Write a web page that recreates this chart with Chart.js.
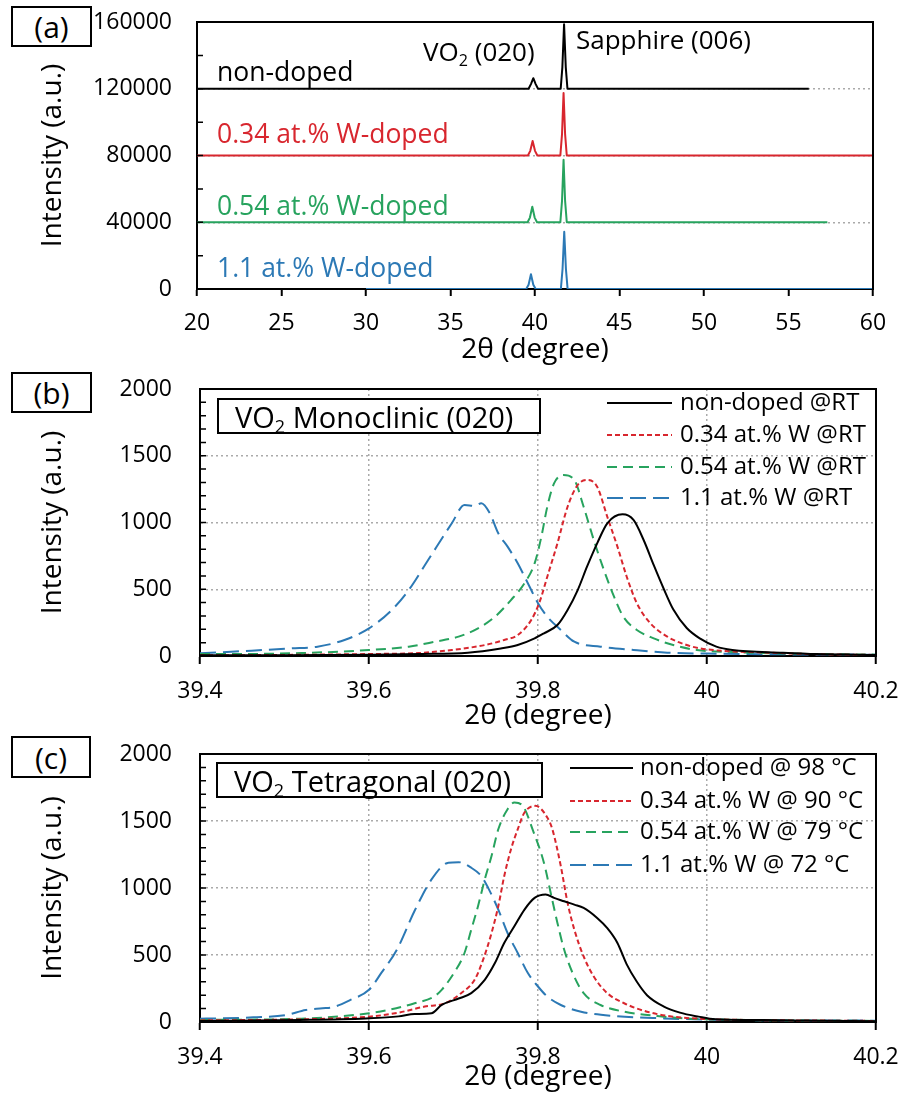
<!DOCTYPE html>
<html><head><meta charset="utf-8">
<script src="https://cdn.jsdelivr.net/npm/chart.js@4.4.1/dist/chart.umd.min.js"></script>
<style>
html,body{margin:0;padding:0;background:#fff;}
body{width:901px;height:1099px;position:relative;overflow:hidden;font-family:'Open Sans',sans-serif;color:#000;}
canvas{position:absolute;left:0;}
.t{position:absolute;white-space:nowrap;line-height:1;transform:translateY(-50%);}
.box{position:absolute;border:2px solid #000;box-sizing:border-box;background:#fff;display:flex;align-items:center;white-space:nowrap;}
.pl{justify-content:center;font-size:30px;}
.tb{font-size:29px;padding-left:16px;}
sub{font-size:0.62em;vertical-align:-0.3em;line-height:0;}
</style></head><body>
<canvas id="ca" width="901" height="367" style="top:0"></canvas>
<canvas id="cb" width="901" height="368" style="top:365px"></canvas>
<canvas id="cc" width="901" height="364" style="top:730px"></canvas>

<div class="box pl" style="left:11px;top:6px;width:81px;height:41px"><span>(a)</span></div>
<div class="box pl" style="left:11px;top:372px;width:81px;height:41px"><span>(b)</span></div>
<div class="box pl" style="left:11px;top:736px;width:80px;height:42px"><span>(c)</span></div>

<div class="t" style="left:217px;top:71px;font-size:26.5px;color:#000">non-doped</div>
<div class="t" style="left:217px;top:133px;font-size:26.5px;color:#d8262e">0.34 at.% W-doped</div>
<div class="t" style="left:217px;top:205px;font-size:26.5px;color:#27a35e">0.54 at.% W-doped</div>
<div class="t" style="left:217px;top:267px;font-size:26.5px;color:#2c79b5">1.1 at.% W-doped</div>
<div class="t" style="left:423px;top:51px;font-size:26px">VO<sub>2</sub> (020)</div>
<div class="t" style="left:576px;top:39px;font-size:26px">Sapphire (006)</div>

<div class="box tb" style="left:217px;top:398px;width:324px;height:36px"><span>VO<sub>2</sub> Monoclinic (020)</span></div>
<div class="box tb" style="left:216px;top:762px;width:327px;height:36px"><span>VO<sub>2</sub> Tetragonal (020)</span></div>

<script>
// ---------------- DATA ----------------
// Panel (a): wide XRD scans (offset traces)
const A_X_TICKS = [20, 25, 30, 35, 40, 45, 50, 55, 60];
const A_X_LABELS = ['20', '25', '30', '35', '40', '45', '50', '55', '60'];
const A_Y_TICKS = [0, 40000, 80000, 120000, 160000];
const A_Y_LABELS = ['0', '40000', '80000', '120000', '160000'];
const A_Y_MINOR = [0, 20000, 40000, 60000, 80000, 100000, 120000, 140000, 160000];

const A_NON_X = [20, 39.62, 39.76, 39.9, 40.04, 40.18, 41.52, 41.62, 41.72, 41.82, 41.92, 56.2];
const A_NON_Y = [120000, 120000, 122800, 126300, 122800, 120000, 120000, 133000, 158600, 133000, 120000, 120000];
const A_W034_X = [20, 39.58, 39.72, 39.86, 40.0, 40.14, 41.5, 41.6, 41.69, 41.78, 41.88, 60];
const A_W034_Y = [80000, 80000, 82800, 88700, 82800, 80000, 80000, 93000, 117400, 93000, 80000, 80000];
const A_W054_X = [20, 39.56, 39.7, 39.84, 39.98, 40.12, 41.5, 41.6, 41.69, 41.78, 41.88, 57.3];
const A_W054_Y = [40000, 40000, 42800, 49300, 42800, 40000, 40000, 53000, 77500, 53000, 40000, 40000];
const A_W11_X = [30, 39.48, 39.62, 39.76, 39.9, 40.04, 41.53, 41.63, 41.73, 41.83, 41.93, 60];
const A_W11_Y = [0, 0, 2600, 8800, 2600, 0, 0, 12000, 34300, 12000, 0, 0];

// Panels (b), (c): VO2 (020) peak
const BC_X_TICKS = [39.4, 39.6, 39.8, 40.0, 40.2];
const BC_X_LABELS = ['39.4', '39.6', '39.8', '40', '40.2'];
const BC_Y_TICKS = [0, 500, 1000, 1500, 2000];
const BC_Y_LABELS = ['0', '500', '1000', '1500', '2000'];
const BC_Y_MINOR = [0, 100, 200, 300, 400, 500, 600, 700, 800, 900, 1000, 1100, 1200, 1300, 1400, 1500, 1600, 1700, 1800, 1900, 2000];

const B_LABELS = ['non-doped @RT', '0.34 at.% W @RT', '0.54 at.% W @RT', '1.1 at.% W @RT'];
const B_NON_X = [39.4, 39.5, 39.6, 39.66, 39.717, 39.756, 39.776, 39.796, 39.807, 39.823, 39.835, 39.847, 39.858, 39.87, 39.882, 39.9, 39.913, 39.925, 39.937, 39.949, 39.96, 39.976, 39.992, 40.011, 40.03, 40.09, 40.13, 40.2];
const B_NON_Y = [5, 6, 10, 15, 25, 57, 82, 132, 170, 232, 345, 494, 669, 844, 994, 1061, 1019, 869, 680, 500, 350, 210, 130, 70, 45, 25, 15, 8];
const B_W034_X = [39.4, 39.5, 39.6, 39.658, 39.698, 39.737, 39.76, 39.776, 39.792, 39.802, 39.811, 39.823, 39.835, 39.847, 39.858, 39.87, 39.882, 39.894, 39.905, 39.917, 39.933, 39.953, 39.976, 39.992, 40.02, 40.06, 40.12, 40.2];
const B_W034_Y = [5, 8, 15, 22, 45, 82, 120, 157, 270, 407, 594, 844, 1118, 1281, 1318, 1268, 1043, 819, 594, 395, 245, 145, 82, 57, 38, 28, 15, 8];
const B_W054_X = [39.4, 39.44, 39.52, 39.6, 39.647, 39.678, 39.706, 39.729, 39.749, 39.768, 39.784, 39.796, 39.804, 39.811, 39.819, 39.83, 39.843, 39.854, 39.866, 39.878, 39.89, 39.901, 39.917, 39.937, 39.96, 39.988, 40.03, 40.1, 40.2];
const B_W054_Y = [15, 15, 22, 45, 70, 107, 145, 207, 294, 419, 545, 694, 894, 1118, 1293, 1356, 1318, 1118, 869, 644, 444, 294, 195, 132, 82, 45, 30, 18, 10];
const B_W11_X = [39.4, 39.461, 39.508, 39.539, 39.571, 39.6, 39.627, 39.647, 39.67, 39.698, 39.713, 39.725, 39.733, 39.743, 39.753, 39.764, 39.776, 39.788, 39.8, 39.811, 39.827, 39.843, 39.874, 39.913, 39.953, 40.0, 40.1, 40.2];
const B_W11_Y = [20, 40, 57, 70, 120, 207, 345, 494, 719, 994, 1131, 1124, 1144, 1069, 919, 819, 694, 545, 395, 294, 195, 107, 70, 45, 25, 18, 12, 10];

const C_LABELS = ['non-doped @ 98 °C', '0.34 at.% W @ 90 °C', '0.54 at.% W @ 79 °C', '1.1 at.% W @ 72 °C'];
const C_NON_X = [39.4, 39.518, 39.596, 39.635, 39.654, 39.674, 39.686, 39.706, 39.721, 39.737, 39.749, 39.76, 39.772, 39.784, 39.796, 39.809, 39.819, 39.831, 39.843, 39.854, 39.87, 39.882, 39.894, 39.905, 39.917, 39.929, 39.949, 39.968, 39.99, 40.01, 40.05, 40.1, 40.2];
const C_NON_Y = [7, 15, 27, 42, 60, 65, 127, 175, 215, 315, 440, 589, 714, 839, 926, 951, 926, 901, 876, 851, 776, 700, 590, 430, 300, 200, 115, 70, 40, 20, 15, 12, 5];
const C_W034_X = [39.4, 39.52, 39.6, 39.635, 39.666, 39.69, 39.709, 39.725, 39.735, 39.745, 39.753, 39.76, 39.768, 39.776, 39.784, 39.797, 39.811, 39.817, 39.827, 39.835, 39.843, 39.854, 39.866, 39.882, 39.902, 39.929, 39.96, 40.0, 40.05, 40.1, 40.2];
const C_W034_Y = [12, 20, 40, 70, 115, 140, 215, 315, 464, 664, 864, 1088, 1288, 1438, 1563, 1613, 1526, 1438, 1163, 889, 689, 489, 339, 215, 140, 77, 40, 22, 15, 12, 8];
const C_W054_X = [39.4, 39.52, 39.6, 39.623, 39.654, 39.677, 39.686, 39.702, 39.713, 39.721, 39.729, 39.737, 39.745, 39.753, 39.764, 39.772, 39.782, 39.794, 39.807, 39.815, 39.823, 39.831, 39.841, 39.854, 39.874, 39.902, 39.941, 39.98, 40.05, 40.2];
const C_W054_Y = [15, 25, 65, 90, 140, 190, 240, 380, 515, 689, 864, 1064, 1238, 1438, 1588, 1638, 1613, 1430, 1189, 964, 739, 539, 365, 215, 127, 77, 45, 25, 15, 8];
const C_W11_X = [39.4, 39.423, 39.463, 39.502, 39.525, 39.545, 39.557, 39.578, 39.6, 39.615, 39.633, 39.654, 39.674, 39.694, 39.706, 39.721, 39.733, 39.741, 39.753, 39.764, 39.776, 39.788, 39.8, 39.811, 39.827, 39.851, 39.89, 39.949, 40.0, 40.1, 40.2];
const C_W11_Y = [25, 27, 35, 52, 90, 102, 110, 165, 240, 370, 540, 830, 1064, 1189, 1193, 1151, 1088, 1001, 839, 664, 515, 365, 265, 190, 127, 77, 45, 27, 18, 12, 10];

// ---------------- STYLE ----------------
const FONT = "'Open Sans'";
const BLACK = '#000000', RED = '#d8262e', GREEN = '#27a35e', BLUE = '#2c79b5';
const GRID = '#aaaaaa';
const DASH_RED = [5, 3], DASH_GREEN = [10, 6], DASH_BLUE = [16, 7];

const pts = (xs, ys) => xs.map((x, i) => ({x: x, y: ys[i]}));

function framePlugin(minor, tickLen) {
  return {
    id: 'frame',
    afterDraw(chart) {
      const ctx = chart.ctx, a = chart.chartArea, ys = chart.scales.y;
      ctx.save();
      ctx.setLineDash([]);
      ctx.strokeStyle = '#000';
      ctx.lineWidth = 2;
      ctx.beginPath();
      ctx.moveTo(a.left - 1, a.top);
      ctx.lineTo(a.right, a.top);
      ctx.lineTo(a.right, a.bottom + 1);
      ctx.stroke();
      ctx.lineWidth = 1.5;
      ctx.beginPath();
      minor.forEach(v => {
        const p = ys.getPixelForValue(v);
        ctx.moveTo(a.left, p);
        ctx.lineTo(a.left + tickLen, p);
      });
      ctx.stroke();
      ctx.restore();
    }
  };
}

function legendPlugin(cfg) {
  return {
    id: 'lg',
    afterDraw(chart) {
      if (!cfg) return;
      const ctx = chart.ctx;
      chart.data.datasets.forEach((ds, i) => {
        const y = cfg.rows[i];
        ctx.save();
        ctx.strokeStyle = ds.borderColor;
        ctx.lineWidth = 2;
        ctx.setLineDash(ds.borderDash || []);
        ctx.beginPath();
        ctx.moveTo(cfg.x1, y);
        ctx.lineTo(cfg.x2, y);
        ctx.stroke();
        ctx.setLineDash([]);
        ctx.fillStyle = '#000';
        ctx.font = "24px 'Open Sans'";
        ctx.textBaseline = 'middle';
        ctx.textAlign = 'left';
        ctx.fillText(ds.label, cfg.tx, y);
        ctx.restore();
      });
    }
  };
}

function makeScales(o) {
  return {
    x: {
      type: 'linear', min: o.xMin, max: o.xMax,
      afterBuildTicks: s => { s.ticks = o.xTicks.map(v => ({value: v})); },
      afterFit: s => { s.height = o.xHeight; s.paddingLeft = 0; s.paddingRight = 0; },
      ticks: {
        autoSkip: false, maxRotation: 0, minRotation: 0, padding: o.xTickPad, color: '#000',
        font: {family: FONT, size: 23},
        callback: (v, i) => o.xLabels[i]
      },
      grid: {
        display: true, drawOnChartArea: o.xGrid, drawTicks: true, tickLength: o.tickLen,
        tickColor: '#000', tickWidth: 2, tickBorderDash: [], color: GRID, lineWidth: 1.5
      },
      border: {display: true, color: '#000', width: 2, dash: [2, 3]},
      title: {display: true, text: '2θ (degree)', color: '#000', font: {family: FONT, size: 28}, padding: {top: 0, bottom: 0}}
    },
    y: {
      type: 'linear', min: o.yMin, max: o.yMax,
      afterBuildTicks: s => { s.ticks = o.yTicks.map(v => ({value: v})); },
      afterFit: s => { s.width = o.yWidth; s.paddingTop = 0; s.paddingBottom = 0; },
      ticks: {
        autoSkip: false, padding: o.yTickPad, color: '#000',
        font: {family: FONT, size: 23},
        callback: (v, i) => o.yLabels[i]
      },
      grid: {display: true, drawOnChartArea: true, drawTicks: false, color: GRID, lineWidth: 1.5},
      border: {display: true, color: '#000', width: 2, dash: [2, 3]},
      title: {display: true, text: 'Intensity (a.u.)', color: '#000', font: {family: FONT, size: 28}, padding: {top: 36, bottom: 0}}
    }
  };
}

function ds(label, xs, ys, color, dash, smooth) {
  return {
    label: label, data: pts(xs, ys), borderColor: color, backgroundColor: color,
    borderWidth: 2, borderDash: dash, pointRadius: 0, fill: false,
    tension: 0, cubicInterpolationMode: smooth ? 'monotone' : 'default',
    borderJoinStyle: 'round'
  };
}

function makeChart(id, padding, datasets, scaleOpts, minor, legendCfg) {
  return new Chart(document.getElementById(id), {
    type: 'line',
    data: {datasets: datasets},
    options: {
      responsive: false, animation: false, devicePixelRatio: 1,
      layout: {padding: padding},
      plugins: {legend: {display: false}, tooltip: {enabled: false}},
      scales: makeScales(scaleOpts)
    },
    plugins: [framePlugin(minor, 6), legendPlugin(legendCfg)]
  });
}

// Panel (a)
makeChart('ca', {top: 22, right: 28, left: 0, bottom: 0}, [
  ds('non-doped', A_NON_X, A_NON_Y, BLACK, [], false),
  ds('0.34 at.% W-doped', A_W034_X, A_W034_Y, RED, [], false),
  ds('0.54 at.% W-doped', A_W054_X, A_W054_Y, GREEN, [], false),
  ds('1.1 at.% W-doped', A_W11_X, A_W11_Y, BLUE, [], false)
], {
  xMin: 20, xMax: 60, xTicks: A_X_TICKS, xLabels: A_X_LABELS, xHeight: 78, xTickPad: 14, tickLen: 7, xGrid: false,
  yMin: 0, yMax: 160000, yTicks: A_Y_TICKS, yLabels: A_Y_LABELS, yWidth: 197, yTickPad: 25
}, A_Y_MINOR, null);

// Panel (b)
makeChart('cb', {top: 24, right: 25, left: 0, bottom: 0}, [
  ds(B_LABELS[0], B_NON_X, B_NON_Y, BLACK, [], true),
  ds(B_LABELS[1], B_W034_X, B_W034_Y, RED, DASH_RED, true),
  ds(B_LABELS[2], B_W054_X, B_W054_Y, GREEN, DASH_GREEN, true),
  ds(B_LABELS[3], B_W11_X, B_W11_Y, BLUE, DASH_BLUE, true)
], {
  xMin: 39.4, xMax: 40.2, xTicks: BC_X_TICKS, xLabels: BC_X_LABELS, xHeight: 77, xTickPad: 14, tickLen: 8, xGrid: true,
  yMin: 0, yMax: 2000, yTicks: BC_Y_TICKS, yLabels: BC_Y_LABELS, yWidth: 200, yTickPad: 28
}, BC_Y_MINOR, {x1: 607, x2: 672, tx: 680, rows: [38, 70, 102, 133]});

// Panel (c)
makeChart('cc', {top: 24, right: 25, left: 0, bottom: 0}, [
  ds(C_LABELS[0], C_NON_X, C_NON_Y, BLACK, [], true),
  ds(C_LABELS[1], C_W034_X, C_W034_Y, RED, DASH_RED, true),
  ds(C_LABELS[2], C_W054_X, C_W054_Y, GREEN, DASH_GREEN, true),
  ds(C_LABELS[3], C_W11_X, C_W11_Y, BLUE, DASH_BLUE, true)
], {
  xMin: 39.4, xMax: 40.2, xTicks: BC_X_TICKS, xLabels: BC_X_LABELS, xHeight: 72, xTickPad: 14, tickLen: 8, xGrid: true,
  yMin: 0, yMax: 2000, yTicks: BC_Y_TICKS, yLabels: BC_Y_LABELS, yWidth: 200, yTickPad: 28
}, BC_Y_MINOR, {x1: 570, x2: 633, tx: 640, rows: [38, 71, 102, 135]});
</script>
</body></html>
